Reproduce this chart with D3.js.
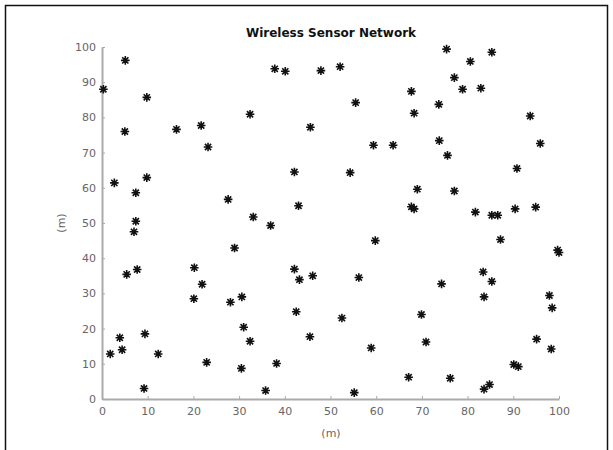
<!DOCTYPE html>
<html>
<head>
<meta charset="utf-8">
<script src="https://cdn.jsdelivr.net/npm/d3@7"></script>
<style>
  body { margin: 0; background: #fff; }
  .tick text { font-family: "DejaVu Sans", sans-serif; font-size: 11px; fill: #666; }
  .axis path, .axis line { stroke: #aaa; }
</style>
</head>
<body>
<div id="chart"></div>
<script>
// sensor node positions (m)
const nodeX = [0.3, 5.1, 9.8, 5.0, 16.3, 21.7, 23.2, 32.4, 37.8, 40.1,
  47.9, 52.1, 55.5, 45.6, 59.4, 63.7, 67.7, 68.3, 75.4, 77.1,
  80.6, 85.3, 78.9, 82.9, 73.7, 73.8, 75.6, 93.7, 95.9, 90.8,
  2.7, 9.8, 7.4, 7.4, 7.0, 7.7, 5.4, 42.1, 54.3, 27.6,
  33.1, 36.9, 43.0, 29.0, 59.8, 69.0, 67.7, 68.3, 77.1, 81.7,
  85.3, 86.6, 90.4, 94.9, 87.2, 99.7, 100.0, 20.2, 21.9, 20.1,
  28.1, 30.6, 31.0, 32.4, 22.9, 30.5, 38.2, 35.8, 42.1, 43.2,
  46.1, 42.5, 45.5, 52.5, 56.2, 58.9, 55.2, 67.1, 69.9, 70.9,
  74.3, 76.2, 83.4, 85.3, 83.6, 83.6, 84.8, 90.1, 91.1, 95.1,
  97.9, 98.5, 98.3, 3.9, 4.4, 1.8, 12.3, 9.4, 9.2]
const nodeY = [88.0, 96.2, 85.7, 76.0, 76.6, 77.7, 71.6, 80.9, 93.8, 93.1,
  93.3, 94.4, 84.2, 77.2, 72.1, 72.1, 87.4, 81.2, 99.4, 91.3,
  95.9, 98.5, 88.0, 88.3, 83.7, 73.4, 69.2, 80.4, 72.6, 65.5,
  61.4, 62.9, 58.6, 50.5, 47.5, 36.8, 35.4, 64.5, 64.3, 56.7,
  51.7, 49.3, 54.9, 42.9, 45.0, 59.6, 54.6, 54.0, 59.1, 53.1,
  52.2, 52.2, 54.0, 54.5, 45.3, 42.3, 41.6, 37.3, 32.6, 28.5,
  27.5, 29.0, 20.4, 16.4, 10.4, 8.7, 10.1, 2.4, 36.9, 33.9,
  35.0, 24.8, 17.7, 23.0, 34.5, 14.5, 1.8, 6.2, 24.0, 16.2,
  32.7, 5.9, 36.1, 33.4, 29.0, 2.8, 4.1, 9.8, 9.2, 17.0,
  29.4, 25.9, 14.2, 17.4, 14.0, 12.8, 12.8, 18.5, 3.0]
const xTicks = [0, 10, 20, 30, 40, 50, 60, 70, 80, 90, 100]
const yTicks = [0, 10, 20, 30, 40, 50, 60, 70, 80, 90, 100]

const nodes = nodeX.map((x, i) => ({x: x, y: nodeY[i]}))

const W = 613, H = 450
const margin = {top: 47, right: 54, bottom: 51, left: 102}

const svg = d3.select('#chart').append('svg')
  .attr('width', W)
  .attr('height', H)

// figure frame
svg.append('path')
  .attr('d', `M5.5,${H} V5.5 H607.5 V${H}`)
  .attr('fill', 'none')
  .attr('stroke', '#111')
  .attr('stroke-width', 1.5)

const xScale = d3.scaleLinear()
  .domain([0, 100])
  .range([margin.left, W - margin.right])
const yScale = d3.scaleLinear()
  .domain([0, 100])
  .range([H - margin.bottom, margin.top])

svg.append('g')
  .attr('class', 'axis')
  .attr('transform', `translate(0,${H - margin.bottom})`)
  .call(d3.axisBottom(xScale).tickValues(xTicks).tickSizeInner(-3).tickSizeOuter(0).tickPadding(8))
svg.append('g')
  .attr('class', 'axis')
  .attr('transform', `translate(${margin.left},0)`)
  .call(d3.axisLeft(yScale).tickValues(yTicks).tickSizeInner(-3).tickSizeOuter(0).tickPadding(6))
svg.selectAll('.axis .domain').attr('stroke-width', 2)
svg.selectAll('.axis .tick line').attr('stroke', '#666')

// MATLAB-style '*' marker: plus and cross overlaid
const r = 4.3, d = r * 0.72
const starPath = `M${-r},0H${r}M0,${-r}V${r}M${-d},${-d}L${d},${d}M${-d},${d}L${d},${-d}`
svg.append('g').selectAll('path')
  .data(nodes)
  .enter().append('path')
  .attr('transform', n => `translate(${xScale(n.x)},${yScale(n.y)})`)
  .attr('d', starPath)
  .attr('fill', 'none')
  .attr('stroke', '#111')
  .attr('stroke-width', 1.6)

svg.append('text')
  .attr('x', 331)
  .attr('y', 37)
  .attr('text-anchor', 'middle')
  .style('font-family', '"DejaVu Sans", sans-serif')
  .style('font-weight', 'bold')
  .style('font-size', '12px')
  .style('fill', '#111')
  .text('Wireless Sensor Network')

svg.append('text')
  .attr('x', 331)
  .attr('y', 437)
  .attr('text-anchor', 'middle')
  .style('font-family', '"DejaVu Sans", sans-serif')
  .style('font-size', '11px')
  .style('fill', '#666')
  .text('(m)')

svg.append('text')
  .attr('transform', 'translate(65,223) rotate(-90)')
  .attr('text-anchor', 'middle')
  .style('font-family', '"DejaVu Sans", sans-serif')
  .style('font-size', '11px')
  .style('fill', '#666')
  .text('(m)')
</script>
</body>
</html>
